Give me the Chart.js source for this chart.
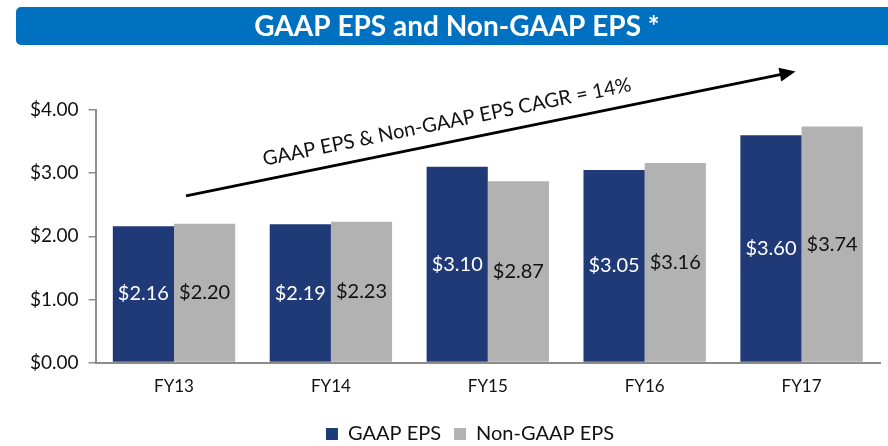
<!DOCTYPE html>
<html>
<head>
<meta charset="utf-8">
<script src="https://cdn.jsdelivr.net/npm/chart.js@4/dist/chart.umd.min.js"></script>
<style>
  html, body { margin: 0; padding: 0; background: #fff; }
  #wrap { width: 888px; height: 446px; position: relative; }
</style>
</head>
<body>
<div id="wrap"><canvas id="eps"></canvas></div>
<script>
var years = ["FY13", "FY14", "FY15", "FY16", "FY17"];
var gaapEps = [2.16, 2.19, 3.10, 3.05, 3.60];
var nonGaapEps = [2.20, 2.23, 2.87, 3.16, 3.74];
var yTicks = [0, 1, 2, 3, 4];
var titleText = "GAAP EPS and Non-GAAP EPS *";
var cagrText = "GAAP EPS & Non-GAAP EPS CAGR = 14%";

var FONT = "Lato, 'Open Sans', sans-serif";

// blue title band across the top
var titleBand = {
  id: 'titleBand',
  beforeDraw: function(chart) {
    var c = chart.ctx;
    c.save();
    c.fillStyle = '#0070C0';
    c.beginPath();
    c.roundRect(16, 7, 900, 38, 5);
    c.fill();
    c.fillStyle = '#fff';
    c.font = 'bold 28px ' + FONT;
    c.textAlign = 'center';
    c.textBaseline = 'middle';
    c.fillText(titleText, 457, 27);
    c.restore();
  }
};

// value labels in the middle of each bar
var barLabels = {
  id: 'barLabels',
  afterDatasetsDraw: function(chart) {
    var c = chart.ctx;
    c.save();
    c.font = '20px ' + FONT;
    c.textAlign = 'center';
    c.textBaseline = 'middle';
    chart.data.datasets.forEach(function(ds, i) {
      var meta = chart.getDatasetMeta(i);
      c.fillStyle = i == 0 ? '#fff' : '#111';
      meta.data.forEach(function(bar, j) {
        c.fillText('$' + ds.data[j].toFixed(2), bar.x, (bar.y + bar.base) / 2);
      });
    });
    c.restore();
  }
};

// CAGR arrow, anchored on the scales
var cagrArrow = {
  id: 'cagrArrow',
  afterDraw: function(chart) {
    var xs = chart.scales.x, ys = chart.scales.y;
    var x1 = xs.getPixelForValue(0) + 12, y1 = ys.getPixelForValue(2.64);
    var x2 = xs.getPixelForValue(4) - 6, y2 = ys.getPixelForValue(4.61);
    var ang = Math.atan2(y2 - y1, x2 - x1);
    var c = chart.ctx;
    c.save();
    c.strokeStyle = '#000';
    c.fillStyle = '#000';
    c.lineWidth = 3;
    c.beginPath();
    c.moveTo(x1, y1);
    c.lineTo(x2 - 12 * Math.cos(ang), y2 - 12 * Math.sin(ang));
    c.stroke();
    c.translate(x2, y2);
    c.rotate(ang);
    c.beginPath();
    c.moveTo(0, 0);
    c.lineTo(-16, -7);
    c.lineTo(-16, 7);
    c.closePath();
    c.fill();
    c.restore();

    c.save();
    c.translate(447, 122);
    c.rotate(ang);
    c.font = '20px ' + FONT;
    c.fillStyle = '#111';
    c.textAlign = 'center';
    c.textBaseline = 'middle';
    c.fillText(cagrText, 0, 0);
    c.restore();
  }
};

// legend sits a bit right of centre in the original
var legendShift = {
  id: 'legendShift',
  afterLayout: function(chart) {
    chart.legend.left += 20;
    chart.legend.right += 20;
  }
};

var ctx = document.getElementById('eps').getContext('2d');
var epsChart = new Chart(ctx, {
  type: 'bar',
  data: {
    labels: years,
    datasets: [
      { label: 'GAAP EPS', data: gaapEps, backgroundColor: '#203A78' },
      { label: 'Non-GAAP EPS', data: nonGaapEps, backgroundColor: '#B2B2B2' }
    ]
  },
  options: {
    responsive: true,
    maintainAspectRatio: false,
    animation: false,
    layout: { padding: { top: 110, left: 20, right: 8, bottom: -8 } },
    datasets: { bar: { categoryPercentage: 0.78, barPercentage: 1.0 } },
    plugins: {
      legend: {
        position: 'bottom',
        labels: {
          boxWidth: 12, boxHeight: 12, padding: 13,
          color: '#111',
          font: { family: FONT, size: 20 }
        }
      },
      tooltip: { enabled: false }
    },
    scales: {
      x: {
        grid: { display: false, drawTicks: false },
        border: { color: '#8c8c8c', width: 2 },
        ticks: { color: '#111', padding: 14, font: { family: FONT, size: 17 } }
      },
      y: {
        min: 0, max: 4,
        afterBuildTicks: function(axis) {
          axis.ticks = yTicks.map(function(v) { return { value: v }; });
        },
        grid: { drawOnChartArea: false, tickLength: 7, color: '#8c8c8c', lineWidth: 1.5 },
        border: { color: '#8c8c8c', width: 2 },
        ticks: {
          color: '#111', padding: 10,
          font: { family: FONT, size: 19 },
          callback: function(v) { return '$' + Number(v).toFixed(2); }
        }
      }
    }
  },
  plugins: [titleBand, barLabels, cagrArrow, legendShift]
});
</script>
</body>
</html>
